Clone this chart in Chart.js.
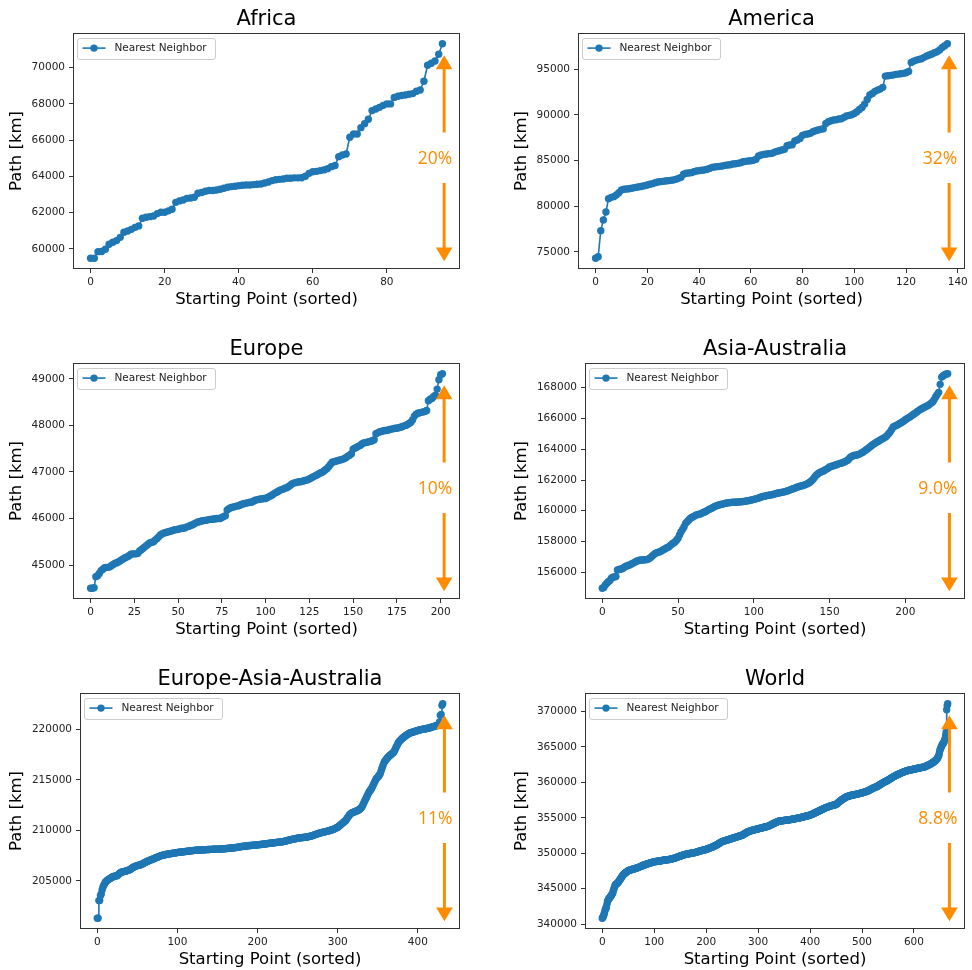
<!DOCTYPE html>
<html>
<head>
<meta charset="utf-8">
<script src="https://cdn.jsdelivr.net/npm/chart.js@4.4.1/dist/chart.umd.min.js"></script>
<style>
  html, body { margin: 0; padding: 0; background: #fff; overflow: hidden; }
  body { width: 972px; height: 970px; position: relative; }
  canvas { position: absolute; }
</style>
</head>
<body>
<script>
// path length [km] for every starting point, sorted ascending
var africaPath = [
  59485,59490,59850,59860,59980,60260,60370,60460,60640,60920,
  60990,61080,61190,61270,61690,61750,61780,61820,61950,62020,
  62020,62100,62190,62570,62650,62700,62790,62810,62850,63070,
  63110,63180,63220,63220,63250,63290,63350,63400,63440,63460,
  63490,63510,63530,63530,63550,63570,63580,63640,63690,63770,
  63820,63840,63860,63900,63900,63920,63920,63930,64010,64170,
  64260,64280,64320,64360,64430,64540,64600,65090,65180,65240,
  66160,66340,66340,66690,66910,67150,67630,67720,67810,67920,
  68000,68000,68360,68420,68460,68490,68530,68570,68700,68770,
  69250,70130,70240,70370,70740,71320
];
var americaPath = [
  74310,74490,77330,78500,79370,80830,80970,81050,81230,81480,
  81780,81850,81890,81920,81960,82030,82070,82140,82180,82250,
  82320,82400,82470,82580,82650,82690,82720,82760,82800,82830,
  82870,82940,83050,83160,83490,83600,83630,83670,83780,83850,
  83890,83930,83960,84030,84140,84250,84290,84330,84360,84400,
  84470,84510,84540,84620,84650,84690,84760,84870,84910,84950,
  84980,85020,85130,85490,85600,85670,85710,85750,85780,85890,
  86000,86070,86150,86220,86620,86690,86730,87130,87240,87420,
  87750,87860,87900,87970,88150,88260,88330,88410,88480,89060,
  89240,89350,89430,89460,89540,89570,89720,89860,89940,90010,
  90150,90340,90590,90810,91170,91680,92160,92340,92560,92700,
  92810,93000,94230,94270,94310,94340,94420,94450,94490,94530,
  94600,94740,95730,95870,95980,96060,96130,96280,96420,96530,
  96640,96790,96890,97080,97370,97550,97770
];
var europePath = [
  44500,44500,44510,44750,44770,44820,44880,44910,44940,44950,
  44950,44960,44990,45010,45040,45050,45070,45090,45120,45140,
  45160,45180,45200,45230,45240,45240,45240,45250,45300,45330,
  45360,45390,45420,45450,45480,45490,45500,45540,45570,45610,
  45650,45670,45690,45700,45710,45720,45730,45740,45760,45760,
  45770,45780,45790,45790,45800,45820,45830,45850,45860,45880,
  45900,45920,45930,45940,45950,45960,45960,45970,45980,45980,
  45990,45990,46000,46000,46000,46020,46040,46060,46180,46210,
  46230,46240,46250,46260,46270,46280,46300,46310,46320,46330,
  46340,46350,46350,46370,46390,46400,46410,46420,46420,46430,
  46430,46450,46470,46490,46510,46540,46560,46580,46600,46620,
  46630,46650,46660,46680,46710,46740,46760,46770,46780,46790,
  46790,46800,46810,46820,46830,46850,46870,46890,46910,46930,
  46950,46970,46990,47010,47040,47070,47110,47160,47210,47220,
  47230,47240,47250,47260,47270,47290,47310,47340,47360,47390,
  47490,47510,47530,47550,47570,47600,47620,47630,47640,47650,
  47660,47670,47690,47820,47840,47860,47870,47880,47890,47890,
  47900,47910,47920,47930,47940,47940,47950,47960,47970,47990,
  48000,48020,48040,48070,48120,48200,48240,48260,48270,48280,
  48290,48300,48320,48530,48560,48580,48620,48650,48780,48980,
  49090,49110
];
var asiaAusPath = [
  154960,155010,155180,155290,155390,155460,155610,155680,155700,155720,
  156150,156180,156200,156230,156280,156370,156410,156440,156480,156530,
  156580,156630,156690,156730,156770,156800,156800,156800,156810,156820,
  156840,156900,156970,157060,157150,157220,157280,157310,157340,157390,
  157450,157500,157560,157610,157660,157750,157840,157900,157970,158080,
  158210,158420,158640,158790,158960,159180,159290,159390,159500,159560,
  159610,159670,159720,159750,159780,159810,159850,159900,159940,160000,
  160060,160110,160150,160210,160260,160310,160350,160380,160410,160430,
  160450,160480,160500,160510,160530,160540,160550,160550,160560,160570,
  160570,160580,160590,160600,160610,160630,160650,160670,160690,160720,
  160740,160770,160790,160820,160860,160900,160930,160950,160970,160990,
  161010,161020,161040,161070,161100,161120,161150,161170,161190,161210,
  161230,161250,161290,161320,161360,161400,161430,161470,161510,161540,
  161580,161610,161630,161660,161700,161740,161790,161860,161940,162030,
  162160,162290,162380,162460,162500,162550,162590,162650,162710,162770,
  162850,162880,162910,162940,162980,163010,163050,163080,163110,163140,
  163190,163240,163290,163400,163500,163550,163590,163610,163630,163650,
  163700,163760,163810,163880,163950,164020,164100,164180,164260,164320,
  164390,164450,164510,164570,164630,164690,164740,164800,164900,165010,
  165120,165290,165450,165500,165550,165600,165660,165710,165770,165840,
  165920,165980,166040,166100,166170,166240,166310,166380,166460,166530,
  166590,166650,166700,166750,166800,166850,166920,167000,167070,167220,
  167400,167550,167700,168220,168690,168780,168850,168890,168910
];
var eurAsiaAusPath = [
  201300,201310,203050,203060,203550,203710,204110,204370,204540,204700,
  204870,204950,205030,205090,205150,205200,205240,205290,205330,205380,
  205430,205450,205470,205490,205510,205530,205600,205680,205750,205810,
  205860,205880,205900,205920,205940,205960,205980,206010,206040,206070,
  206090,206140,206190,206250,206300,206350,206380,206420,206460,206490,
  206520,206540,206560,206580,206600,206620,206670,206710,206760,206800,
  206850,206880,206920,206950,206990,207020,207050,207090,207120,207150,
  207180,207220,207250,207290,207320,207350,207380,207420,207450,207480,
  207510,207530,207550,207570,207590,207610,207620,207640,207650,207670,
  207680,207690,207700,207720,207730,207740,207750,207770,207780,207800,
  207810,207820,207830,207840,207850,207860,207870,207880,207890,207900,
  207910,207920,207930,207940,207950,207960,207970,207980,207990,208000,
  208010,208020,208020,208030,208040,208040,208050,208060,208060,208070,
  208070,208080,208080,208090,208090,208090,208100,208100,208110,208110,
  208110,208120,208120,208120,208130,208130,208130,208140,208140,208140,
  208140,208150,208150,208160,208160,208170,208170,208180,208190,208190,
  208200,208210,208210,208220,208230,208240,208240,208250,208260,208260,
  208270,208280,208290,208300,208320,208330,208340,208360,208370,208390,
  208400,208410,208420,208430,208440,208450,208460,208470,208480,208490,
  208500,208510,208510,208520,208530,208530,208540,208550,208560,208560,
  208570,208580,208590,208600,208610,208620,208630,208640,208650,208660,
  208670,208680,208690,208700,208710,208720,208730,208740,208750,208760,
  208770,208780,208790,208800,208810,208820,208830,208840,208850,208860,
  208870,208880,208890,208910,208930,208950,208970,208990,209020,209040,
  209060,209080,209100,209110,209130,209150,209160,209180,209200,209210,
  209230,209240,209250,209260,209270,209280,209290,209300,209310,209320,
  209330,209340,209350,209370,209390,209410,209430,209450,209480,209500,
  209530,209560,209590,209610,209640,209660,209690,209720,209740,209770,
  209790,209800,209820,209840,209860,209880,209900,209920,209950,209970,
  209990,210010,210040,210060,210090,210120,210160,210200,210240,210280,
  210320,210390,210450,210520,210590,210650,210720,210780,210850,210910,
  210980,211100,211220,211340,211460,211570,211640,211690,211740,211780,
  211810,211840,211870,211900,211940,211970,212020,212080,212150,212220,
  212300,212470,212630,212800,212960,213130,213290,213460,213620,213790,
  213900,214010,214120,214280,214450,214610,214780,214940,215110,215190,
  215270,215380,215490,215600,215850,216100,216320,216540,216760,216870,
  216980,217090,217170,217260,217340,217420,217490,217550,217620,217690,
  217750,217920,218080,218250,218410,218580,218740,218820,218910,218990,
  219070,219140,219200,219270,219330,219400,219450,219500,219540,219590,
  219640,219670,219690,219720,219740,219770,219790,219820,219850,219870,
  219900,219920,219940,219960,219980,220000,220010,220030,220040,220060,
  220070,220090,220110,220120,220140,220160,220190,220210,220240,220270,
  220300,220320,220340,220370,220390,220450,220550,220730,221390,221490,
  222380,222540
];
var worldPath = [
  340840,340950,341080,341300,341550,341850,342110,342250,342390,342800,
  343190,343350,343520,343620,343710,343800,343910,344020,344130,344250,
  344360,344640,344920,345120,345330,345530,345600,345660,345730,345790,
  345860,345960,346070,346170,346280,346380,346490,346600,346720,346830,
  346940,347010,347070,347140,347200,347270,347330,347380,347440,347490,
  347550,347570,347600,347620,347640,347670,347690,347710,347740,347760,
  347780,347800,347830,347850,347880,347900,347920,347950,347970,348000,
  348020,348050,348090,348120,348150,348180,348210,348250,348280,348310,
  348340,348360,348390,348410,348440,348460,348480,348510,348530,348560,
  348580,348600,348630,348650,348670,348700,348720,348740,348760,348790,
  348810,348820,348830,348840,348850,348860,348870,348880,348890,348900,
  348910,348920,348940,348950,348970,348980,348990,349010,349020,349040,
  349050,349060,349070,349080,349090,349100,349100,349110,349120,349130,
  349140,349160,349180,349200,349220,349240,349250,349270,349290,349310,
  349330,349360,349390,349410,349440,349470,349500,349530,349560,349580,
  349610,349630,349660,349680,349710,349730,349750,349780,349800,349830,
  349850,349860,349880,349890,349900,349920,349930,349950,349960,349980,
  349990,350000,350020,350030,350050,350060,350070,350090,350100,350120,
  350130,350150,350180,350200,350220,350250,350270,350290,350320,350340,
  350360,350380,350400,350420,350440,350460,350470,350490,350510,350530,
  350550,350580,350610,350630,350660,350690,350720,350750,350770,350800,
  350830,350860,350890,350930,350960,350990,351030,351060,351090,351130,
  351160,351210,351250,351300,351350,351400,351440,351490,351540,351580,
  351630,351650,351680,351700,351720,351750,351770,351790,351820,351840,
  351860,351880,351910,351930,351960,351980,352000,352030,352050,352080,
  352100,352120,352150,352170,352190,352220,352240,352260,352280,352310,
  352330,352350,352380,352400,352430,352450,352470,352500,352520,352550,
  352570,352620,352660,352710,352750,352800,352850,352890,352940,352980,
  353030,353050,353080,353100,353130,353150,353170,353200,353220,353250,
  353270,353290,353310,353320,353340,353360,353380,353400,353410,353430,
  353450,353470,353490,353510,353530,353550,353560,353580,353600,353620,
  353640,353660,353680,353700,353720,353740,353750,353770,353790,353810,
  353830,353870,353900,353940,353980,354020,354050,354090,354130,354160,
  354200,354230,354270,354300,354330,354370,354400,354430,354470,354500,
  354530,354540,354550,354560,354570,354580,354590,354600,354610,354620,
  354630,354640,354650,354660,354670,354680,354690,354700,354700,354710,
  354720,354730,354750,354760,354780,354790,354800,354820,354830,354850,
  354860,354870,354890,354900,354920,354930,354940,354960,354970,354990,
  355000,355020,355040,355060,355080,355100,355110,355130,355150,355170,
  355190,355210,355230,355250,355270,355290,355300,355320,355340,355360,
  355380,355410,355450,355480,355510,355550,355580,355610,355640,355680,
  355710,355750,355790,355820,355860,355900,355930,355970,356010,356040,
  356080,356110,356150,356180,356210,356250,356280,356310,356340,356380,
  356410,356440,356470,356490,356520,356550,356580,356610,356640,356660,
  356690,356710,356730,356750,356770,356790,356800,356820,356840,356860,
  356880,356940,357000,357060,357120,357190,357250,357310,357370,357430,
  357490,357540,357580,357630,357680,357730,357770,357820,357870,357910,
  357960,357980,358010,358030,358050,358080,358100,358120,358140,358170,
  358190,358200,358220,358230,358250,358260,358270,358290,358300,358320,
  358330,358350,358370,358390,358410,358430,358440,358460,358480,358500,
  358520,358540,358570,358590,358610,358640,358660,358680,358700,358730,
  358750,358790,358830,358860,358900,358940,358980,359020,359050,359090,
  359130,359160,359200,359230,359260,359300,359330,359360,359390,359430,
  359460,359510,359550,359600,359640,359690,359740,359780,359830,359870,
  359920,359960,360000,360040,360070,360110,360150,360190,360230,360260,
  360300,360350,360400,360440,360490,360540,360580,360630,360680,360720,
  360770,360810,360840,360880,360920,360960,360990,361030,361070,361100,
  361140,361170,361210,361240,361270,361310,361340,361370,361400,361440,
  361470,361490,361520,361540,361560,361590,361610,361640,361660,361690,
  361710,361720,361740,361750,361770,361780,361790,361810,361820,361840,
  361850,361870,361890,361910,361920,361940,361960,361980,361990,362010,
  362030,362040,362060,362070,362090,362100,362110,362130,362140,362160,
  362170,362200,362240,362270,362300,362340,362370,362400,362430,362470,
  362500,362550,362590,362640,362690,362730,362780,362830,362880,362920,
  362970,363050,363120,363200,363270,363350,363500,363660,363820,364170,
  364520,364710,364890,365080,365220,365360,365470,365580,365690,365930,
  366160,366630,367100,370240,370850,371080
];

var regions = ['Africa', 'America', 'Europe', 'Asia-Australia', 'Europe-Asia-Australia', 'World'];
var paths = [africaPath, americaPath, europePath, asiaAusPath, eurAsiaAusPath, worldPath];
var spreads = ['20%', '32%', '10%', '9.0%', '11%', '8.8%'];

// tick labels of every subplot
var xTicks = [
  [0, 20, 40, 60, 80],
  [0, 20, 40, 60, 80, 100, 120, 140],
  [0, 25, 50, 75, 100, 125, 150, 175, 200],
  [0, 50, 100, 150, 200],
  [0, 100, 200, 300, 400],
  [0, 100, 200, 300, 400, 500, 600]
];
var yTicks = [
  [60000, 62000, 64000, 66000, 68000, 70000],
  [75000, 80000, 85000, 90000, 95000],
  [45000, 46000, 47000, 48000, 49000],
  [156000, 158000, 160000, 162000, 164000, 166000, 168000],
  [205000, 210000, 215000, 220000],
  [340000, 345000, 350000, 355000, 360000, 365000, 370000]
];

// where each subplot sits on the page
var cells = [
  {left: 0,   top: 0,   plotLeft: 73,  plotRight: 460, yTitle: 16.7},
  {left: 486, top: 0,   plotLeft: 578, plotRight: 965, yTitle: 35.7},
  {left: 0,   top: 330, plotLeft: 73,  plotRight: 460, yTitle: 16.7},
  {left: 486, top: 330, plotLeft: 585, plotRight: 965, yTitle: 35.6},
  {left: 0,   top: 660, plotLeft: 80,  plotRight: 460, yTitle: 16.7},
  {left: 486, top: 660, plotLeft: 585, plotRight: 965, yTitle: 35.6}
];

var BLUE = '#1f77b4';
var ORANGE = '#ff8c00';
var FONT = "'DejaVu Sans', sans-serif";

var decor = {
  id: 'decor',
  afterDatasetsDraw: function(chart) {
    var ctx = chart.ctx, ca = chart.chartArea;
    var o = chart.options.plugins.decor;
    ctx.save();

    // axes frame
    ctx.strokeStyle = '#333';
    ctx.lineWidth = 1;
    ctx.strokeRect(Math.round(ca.left) + 0.5, Math.round(ca.top) + 0.5,
                   Math.round(ca.right - ca.left) - 1, Math.round(ca.bottom - ca.top) - 1);

    // legend
    var lx = ca.left + 4.5, ly = ca.top + 5.5, lw = 138, lh = 21;
    ctx.beginPath();
    ctx.roundRect(lx, ly, lw, lh, 2.5);
    ctx.fillStyle = 'rgba(255,255,255,0.8)';
    ctx.fill();
    ctx.strokeStyle = '#cccccc';
    ctx.stroke();
    var cy = ly + 9.6;
    ctx.strokeStyle = BLUE;
    ctx.lineWidth = 1.6;
    ctx.beginPath();
    ctx.moveTo(lx + 5, cy);
    ctx.lineTo(lx + 28, cy);
    ctx.stroke();
    ctx.fillStyle = BLUE;
    ctx.beginPath();
    ctx.arc(lx + 16.5, cy, 3.7, 0, Math.PI * 2);
    ctx.fill();
    ctx.fillStyle = '#222';
    ctx.font = '10.5px ' + FONT;
    ctx.textAlign = 'left';
    ctx.textBaseline = 'middle';
    ctx.fillText(chart.data.datasets[0].label, lx + 37, cy + 0.5);

    // min-to-max spread arrow
    var ax = ca.left + 0.959 * (ca.right - ca.left);
    var T = ca.top;
    ctx.strokeStyle = ORANGE;
    ctx.fillStyle = ORANGE;
    ctx.lineWidth = 3;
    ctx.beginPath();
    ctx.moveTo(ax, T + 35);
    ctx.lineTo(ax, T + 99.6);
    ctx.moveTo(ax, T + 150);
    ctx.lineTo(ax, T + 216);
    ctx.stroke();
    ctx.beginPath();
    ctx.moveTo(ax, T + 22.3);
    ctx.lineTo(ax + 8.3, T + 36.3);
    ctx.lineTo(ax - 8.3, T + 36.3);
    ctx.closePath();
    ctx.fill();
    ctx.beginPath();
    ctx.moveTo(ax, T + 228.3);
    ctx.lineTo(ax + 8.3, T + 214.6);
    ctx.lineTo(ax - 8.3, T + 214.6);
    ctx.closePath();
    ctx.fill();
    ctx.font = "17.5px 'Open Sans', sans-serif";
    ctx.textAlign = 'right';
    ctx.textBaseline = 'middle';
    ctx.fillText(o.spread, ax + 8, T + 125.6);
    ctx.restore();
  },
  afterDraw: function(chart) {
    var ctx = chart.ctx, ca = chart.chartArea;
    ctx.save();
    ctx.fillStyle = '#000';
    ctx.font = '21px ' + FONT;
    ctx.textAlign = 'center';
    ctx.textBaseline = 'alphabetic';
    ctx.fillText(chart.options.plugins.decor.title, (ca.left + ca.right) / 2, ca.top - 8);
    ctx.restore();
  }
};

function fixedTicks(list) {
  return function(axis) {
    axis.ticks = list.map(function(v) { return {value: v}; });
  };
}

paths.forEach(function(values, k) {
  var cell = cells[k];
  var canvas = document.createElement('canvas');
  canvas.width = 486;
  canvas.height = 310;
  canvas.style.left = cell.left + 'px';
  canvas.style.top = cell.top + 'px';
  canvas.style.width = '486px';
  canvas.style.height = '310px';
  document.body.appendChild(canvas);

  var n = values.length;
  var lo = Math.min.apply(null, values), hi = Math.max.apply(null, values);
  var yPad = 0.05 * (hi - lo), xPad = 0.05 * (n - 1);

  new Chart(canvas, {
    type: 'line',
    data: {
      datasets: [{
        label: 'Nearest Neighbor',
        data: values.map(function(v, i) { return {x: i, y: v}; }),
        borderColor: BLUE,
        backgroundColor: BLUE,
        borderWidth: 1.6,
        pointRadius: 3.7,
        pointBorderWidth: 0,
        pointHoverRadius: 0,
        pointBackgroundColor: BLUE,
        tension: 0,
        fill: false
      }]
    },
    options: {
      responsive: false,
      animation: false,
      events: [],
      layout: {padding: {top: 33, left: 0, bottom: 0, right: cell.left + 486 - cell.plotRight}},
      plugins: {
        legend: {display: false},
        tooltip: {enabled: false},
        decor: {title: regions[k], spread: spreads[k]}
      },
      scales: {
        x: {
          type: 'linear',
          min: -xPad,
          max: n - 1 + xPad,
          afterBuildTicks: fixedTicks(xTicks[k]),
          afterFit: function(s) { s.height = 41; },
          border: {display: false},
          grid: {display: true, drawOnChartArea: false, drawTicks: true, tickLength: 4, color: '#333'},
          ticks: {
            padding: 2.5, maxRotation: 0, autoSkip: false,
            color: '#222', font: {family: FONT, size: 10.5},
            callback: function(v) { return String(v); }
          },
          title: {
            display: true, text: 'Starting Point (sorted)', color: '#000',
            font: {family: FONT, size: 16.5}, padding: {top: 0, bottom: 0.6}
          }
        },
        y: {
          type: 'linear',
          min: lo - yPad,
          max: hi + yPad,
          afterBuildTicks: fixedTicks(yTicks[k]),
          afterFit: function(s) { s.width = cell.plotLeft - cell.left; },
          border: {display: false},
          grid: {display: true, drawOnChartArea: false, drawTicks: true, tickLength: 4, color: '#333'},
          ticks: {
            padding: 4, autoSkip: false,
            color: '#222', font: {family: FONT, size: 10.5},
            callback: function(v) { return String(v); }
          },
          title: {
            display: true, text: 'Path [km]', color: '#000',
            font: {family: FONT, size: 16.5}, padding: {top: cell.yTitle - 9.9, bottom: 0}
          }
        }
      }
    },
    plugins: [decor]
  });
});
</script>
</body>
</html>
